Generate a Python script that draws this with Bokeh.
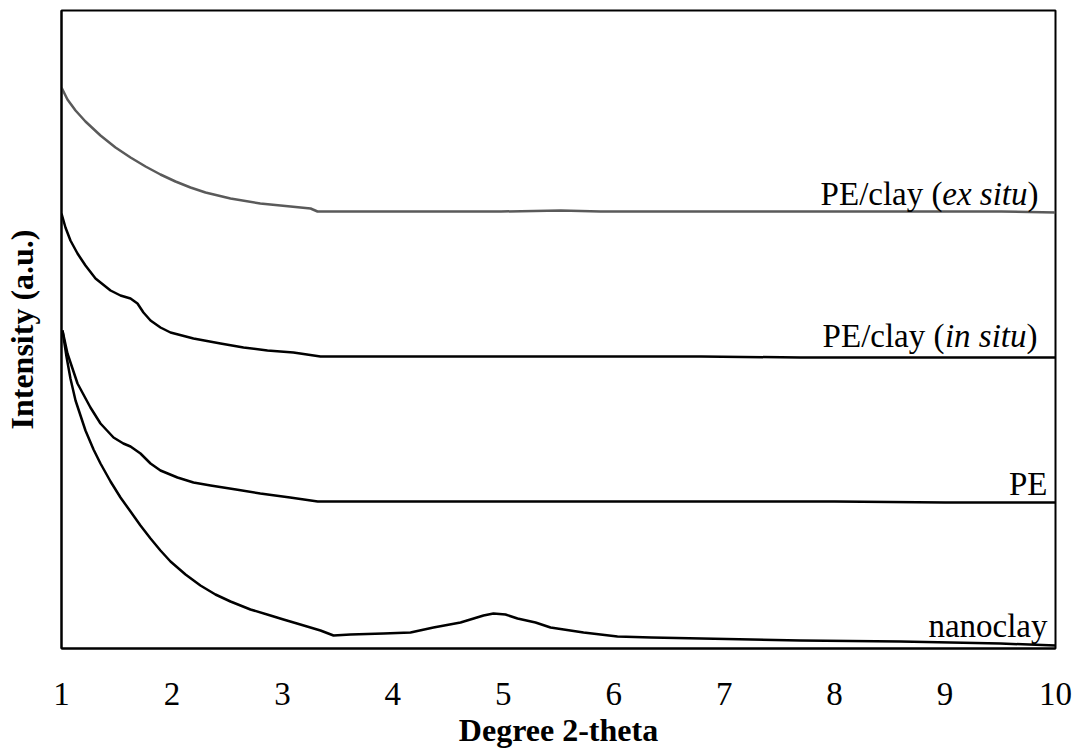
from bokeh.plotting import figure
from bokeh.models import Range1d, Label, FixedTicker
from bokeh.embed import file_html
from bokeh.resources import INLINE

# ---- data (degree 2-theta, arbitrary intensity) ----
exsitu_x = [1.0, 1.054, 1.127, 1.217, 1.353, 1.489, 1.625, 1.761, 1.896, 2.032, 2.168, 2.304,
            2.53, 2.80, 3.074, 3.255, 3.318, 4.07, 4.98, 5.52, 5.88, 6.79, 7.69, 8.60, 9.51, 10.0]
exsitu_y = [561, 549, 538, 527, 513, 501, 491, 482, 474, 467, 461, 456,
            450, 445, 442, 440, 437, 437, 437, 438, 437, 437, 437, 437, 437, 436]

insitu_x = [1.0, 1.036, 1.081, 1.145, 1.217, 1.308, 1.444, 1.534, 1.625, 1.688, 1.742, 1.806,
            1.896, 1.987, 2.195, 2.44, 2.648, 2.865, 3.10, 3.345, 4.07, 4.98, 5.88, 6.79,
            7.69, 8.60, 10.0]
insitu_y = [435, 421, 408, 395, 383, 370, 358, 353, 350, 345, 336, 328,
            321, 316, 310, 305, 301, 298, 296, 292, 292, 292, 292, 292,
            291, 291, 291]

pe_x = [1.009, 1.054, 1.145, 1.262, 1.353, 1.471, 1.56, 1.625, 1.715, 1.806, 1.896, 2.05,
        2.195, 2.35, 2.58, 2.80, 3.07, 3.32, 4.07, 5.0, 6.0, 7.0, 8.0, 9.0, 10.0]
pe_y = [318, 295, 265, 241, 225, 211, 205, 202, 195, 185, 178, 171,
        166, 163, 159, 155, 151, 147, 147, 147, 147, 147, 147, 146, 146]

clay_x = [1.009, 1.045, 1.081, 1.127, 1.217, 1.29, 1.353, 1.444, 1.534, 1.625, 1.715, 1.806,
          1.896, 1.987, 2.123, 2.258, 2.394, 2.53, 2.711, 2.892, 3.01, 3.163, 3.345, 3.463,
          3.617, 3.916, 4.16, 4.368, 4.613, 4.821, 4.911, 5.02, 5.129, 5.292, 5.428, 5.727,
          6.034, 6.342, 6.795, 7.691, 8.597, 9.502, 10.0]
clay_y = [318, 292, 270, 248, 218, 199, 185, 167, 151, 137, 123, 110,
          98, 87, 74, 63, 54, 47, 39, 33, 29, 24, 18, 13,
          14, 15, 16, 21, 26, 33, 35, 34, 30, 26, 21, 16,
          12, 11, 10, 8, 7, 5, 3]

x_ticks = [1, 2, 3, 4, 5, 6, 7, 8, 9, 10]

FONT = "Liberation Serif"

p = figure(width=1082, height=752, output_backend="svg", toolbar_location=None,
           x_range=Range1d(1, 10), y_range=Range1d(0, 638),
           min_border_left=61, min_border_right=27, min_border_top=10, min_border_bottom=104)

p.line(exsitu_x, exsitu_y, line_color="#5a5a5a", line_width=2.5, line_join="round")
p.line(insitu_x, insitu_y, line_color="black", line_width=2.5, line_join="round")
p.line(pe_x, pe_y, line_color="black", line_width=2.5, line_join="round")
p.line(clay_x, clay_y, line_color="black", line_width=2.5, line_join="round")

p.xgrid.grid_line_color = None
p.ygrid.grid_line_color = None
p.outline_line_color = "black"
p.outline_line_width = 2
p.background_fill_color = "white"
p.border_fill_color = "white"

xa = p.xaxis[0]
xa.ticker = FixedTicker(ticks=x_ticks)
xa.major_tick_out = 0
xa.major_tick_in = 0
xa.minor_tick_out = 0
xa.minor_tick_in = 0
xa.axis_line_color = "black"
xa.axis_line_width = 2
xa.major_label_text_font = FONT
xa.major_label_text_font_size = "33px"
xa.major_label_text_color = "black"
xa.major_label_standoff = 34
xa.axis_label = "Degree 2-theta"
xa.axis_label_text_font = FONT
xa.axis_label_text_font_size = "32px"
xa.axis_label_text_font_style = "bold"
xa.axis_label_text_color = "black"
xa.axis_label_standoff = 4

ya = p.yaxis[0]
ya.ticker = FixedTicker(ticks=[])
ya.major_tick_out = 0
ya.major_tick_in = 0
ya.minor_tick_out = 0
ya.minor_tick_in = 0
ya.major_label_text_font_size = "0px"
ya.axis_line_color = "black"
ya.axis_line_width = 2
ya.axis_label = "Intensity (a.u.)"
ya.axis_label_text_font = FONT
ya.axis_label_text_font_size = "32px"
ya.axis_label_text_font_style = "bold"
ya.axis_label_text_color = "black"
ya.axis_label_standoff = 22


def lab(text, y, xoff, italic=False):
    p.add_layout(Label(x=10, y=y, x_offset=xoff, text=text, text_align="right",
                       text_baseline="alphabetic", text_font=FONT, text_font_size="33px",
                       text_font_style="italic" if italic else "normal", text_color="black"))


# PE/clay (ex situ)
lab(")", 455, -17)
lab("ex situ", 455, -28, italic=True)
lab("PE/clay (", 455, -113)
# PE/clay (in situ)
lab(")", 313, -18)
lab("in situ", 313, -29, italic=True)
lab("PE/clay (", 313, -111)
# PE
lab("PE", 165, -8)
# nanoclay
lab("nanoclay", 23, -8)

open("out.html", "w").write(file_html(p, INLINE))
